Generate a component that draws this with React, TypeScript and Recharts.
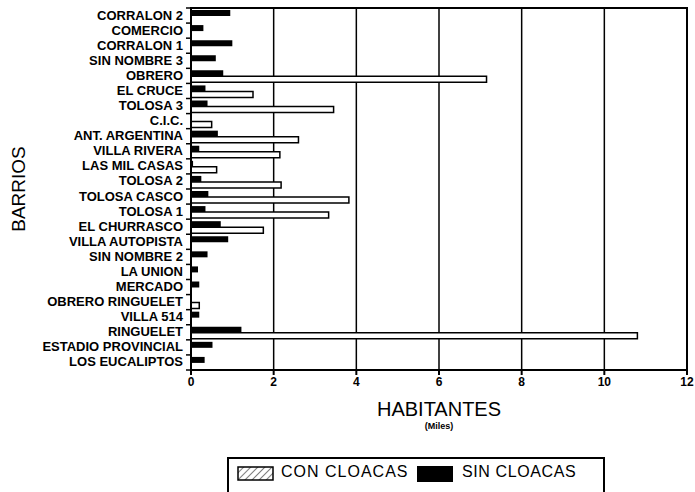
import React from 'react';
import {
  BarChart,
  Bar,
  XAxis,
  YAxis,
  CartesianGrid,
  ReferenceArea,
  Label,
} from 'recharts';

// barrios, de arriba hacia abajo
const barrios = [
  'CORRALON 2', 'COMERCIO', 'CORRALON 1', 'SIN NOMBRE  3', 'OBRERO', 'EL CRUCE',
  'TOLOSA 3', 'C.I.C.', 'ANT. ARGENTINA', 'VILLA RIVERA', 'LAS MIL CASAS', 'TOLOSA 2',
  'TOLOSA CASCO', 'TOLOSA 1', 'EL CHURRASCO', 'VILLA AUTOPISTA', 'SIN NOMBRE  2',
  'LA UNION', 'MERCADO', 'OBRERO RINGUELET', 'VILLA 514', 'RINGUELET',
  'ESTADIO PROVINCIAL', 'LOS EUCALIPTOS',
];

// miles de habitantes
const sinCloacas = [
  0.95, 0.3, 1.0, 0.6, 0.78, 0.35, 0.4, 0, 0.65, 0.2, 0.05, 0.25,
  0.42, 0.35, 0.72, 0.9, 0.4, 0.17, 0.2, 0, 0.2, 1.22, 0.52, 0.33,
];
const conCloacas = [
  0, 0, 0, 0, 7.15, 1.5, 3.45, 0.5, 2.6, 2.15, 0.62, 2.18,
  3.82, 3.33, 1.75, 0, 0, 0, 0, 0.2, 0, 10.8, 0, 0,
];

const xTicks = [0, 2, 4, 6, 8, 10, 12];

const data = barrios.map((b, i) => ({ barrio: b, sin: sinCloacas[i], con: conCloacas[i] }));

const FONT = '"Liberation Sans", Arial, sans-serif';
const CHART_W = 695;
const CHART_H = 492;
const MARGIN = { top: 8, right: 8, bottom: 92, left: 0 };
const X_AXIS_H = 30;
const Y_AXIS_W = 191;
const BAND = (CHART_H - MARGIN.top - MARGIN.bottom - X_AXIS_H) / barrios.length;

const LegendBox = () => (
  <div
    style={{
      position: 'absolute',
      left: 227,
      top: 457,
      width: 378,
      height: 50,
      border: '2px solid #000',
      boxSizing: 'border-box',
      fontFamily: FONT,
      fontSize: 16,
      letterSpacing: 1,
      color: '#000',
    }}
  >
    <svg width={37} height={15} style={{ position: 'absolute', left: 8, top: 7 }}>
      <defs>
        <pattern id="hatch" width="5" height="5" patternUnits="userSpaceOnUse" patternTransform="rotate(45)">
          <line x1="0" y1="0" x2="0" y2="5" stroke="#000" strokeWidth="1" />
        </pattern>
      </defs>
      <rect x={1} y={1} width={35} height={13} fill="url(#hatch)" stroke="#000" strokeWidth={1.5} />
    </svg>
    <span style={{ position: 'absolute', left: 52, top: 4 }}>CON CLOACAS</span>
    <div style={{ position: 'absolute', left: 188, top: 7, width: 36, height: 16, background: '#000' }} />
    <span style={{ position: 'absolute', left: 233, top: 4, letterSpacing: 0.6 }}>SIN CLOACAS</span>
  </div>
);

// etiqueta del barrio + marca en el borde inferior de la franja
const BarrioTick = (props: any) => {
  const { x, y, payload, index } = props;
  const ax = Y_AXIS_W;
  return (
    <g>
      <text
        x={x}
        y={y}
        dy={4}
        textAnchor="end"
        fontSize={13}
        fontWeight="bold"
        fontFamily={FONT}
        fill="#000"
      >
        {payload.value}
      </text>
      {index === 0 && (
        <line x1={ax - 5} x2={ax} y1={y - BAND / 2} y2={y - BAND / 2} stroke="#000" strokeWidth={1.5} />
      )}
      <line x1={ax - 5} x2={ax} y1={y + BAND / 2} y2={y + BAND / 2} stroke="#000" strokeWidth={1.5} />
    </g>
  );
};

const XLabel = (props: any) => {
  const { viewBox } = props;
  const cx = viewBox.x + viewBox.width / 2;
  return (
    <g fontFamily={FONT}>
      <text x={cx} y={viewBox.y + 46} textAnchor="middle" fontSize={20} fill="#000">
        HABITANTES
      </text>
      <text x={cx} y={viewBox.y + 59} textAnchor="middle" fontSize={9} fontWeight="bold" fill="#000">
        (Miles)
      </text>
    </g>
  );
};

const YLabel = (props: any) => {
  const { viewBox } = props;
  const cy = viewBox.y + viewBox.height / 2;
  return (
    <text
      x={25}
      y={cy}
      transform={`rotate(-90 25 ${cy})`}
      textAnchor="middle"
      fontSize={19}
      fontFamily={FONT}
      fill="#000"
    >
      BARRIOS
    </text>
  );
};

export default function App() {
  return (
    <div style={{ position: 'absolute', left: 0, top: 0, width: CHART_W, height: CHART_H, background: '#fff' }}>
      <BarChart
        width={CHART_W}
        height={CHART_H}
        data={data}
        layout="vertical"
        margin={MARGIN}
        barGap={0}
        barSize={6}
      >
        <CartesianGrid horizontal={false} stroke="#000" strokeWidth={1.5} />
        <ReferenceArea x1={0} x2={12} fill="none" stroke="#000" strokeWidth={2} fillOpacity={0} />
        <XAxis
          type="number"
          domain={[0, 12]}
          ticks={xTicks}
          height={X_AXIS_H}
          axisLine={{ stroke: '#000', strokeWidth: 2 }}
          tickLine={{ stroke: '#000', strokeWidth: 2 }}
          tickSize={5}
          tick={{ fill: '#000', fontSize: 12, fontWeight: 'bold', fontFamily: FONT }}
        >
          <Label content={<XLabel />} />
        </XAxis>
        <YAxis
          type="category"
          dataKey="barrio"
          width={Y_AXIS_W}
          interval={0}
          axisLine={{ stroke: '#000', strokeWidth: 2 }}
          tickLine={false}
          tickSize={0}
          tickMargin={8}
          tick={<BarrioTick />}
        >
          <Label content={<YLabel />} />
        </YAxis>
        <Bar dataKey="sin" name="SIN CLOACAS" fill="#000" isAnimationActive={false} />
        <Bar
          dataKey="con"
          name="CON CLOACAS"
          fill="#fff"
          stroke="#000"
          strokeWidth={1.5}
          isAnimationActive={false}
        />
      </BarChart>
      <LegendBox />
    </div>
  );
}
